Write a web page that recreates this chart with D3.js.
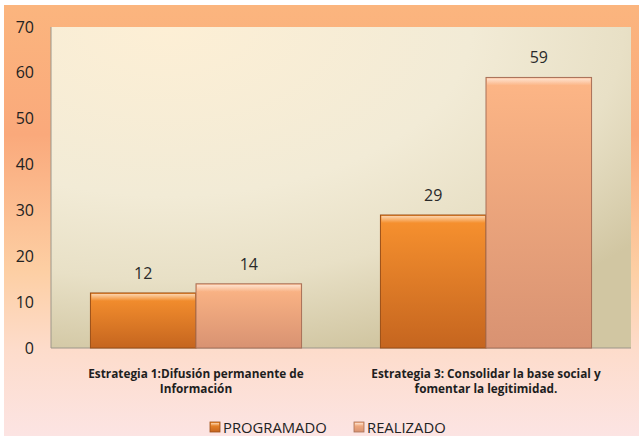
<!DOCTYPE html>
<html>
<head>
<meta charset="utf-8">
<script src="https://cdn.jsdelivr.net/npm/d3@7"></script>
<style>
  body { margin: 0; background: #fff; }
  text { font-family: "Open Sans", sans-serif; }
</style>
</head>
<body>
<svg id="chart" width="639" height="436"></svg>
<script>
// data
const categories = [
  ["Estrategia 1:Difusión permanente de", "Información"],
  ["Estrategia 3: Consolidar la base social y", "fomentar la legitimidad."]
];
const series = ["PROGRAMADO", "REALIZADO"];
const programado = [12, 29];
const realizado = [14, 59];
const yTicks = [0, 10, 20, 30, 40, 50, 60, 70];

const width = 639, height = 436;
const plot = {left: 51, right: 631, top: 27, bottom: 348};

const svg = d3.select("#chart");
const defs = svg.append("defs");

// outer background gradient
const bg = defs.append("linearGradient").attr("id", "bg")
  .attr("x1", 0).attr("y1", 0).attr("x2", 0).attr("y2", 1);
[[0, "#fbb57e"], [0.3, "#faa97b"], [0.62, "#fdcfa4"], [0.8, "#fddccb"], [1, "#fce4e3"]]
  .forEach(s => bg.append("stop").attr("offset", s[0]).attr("stop-color", s[1]));

// plot area gradient
const pa = defs.append("radialGradient").attr("id", "pa")
  .attr("cx", 0.2).attr("cy", 0).attr("r", 1.05).attr("fx", 0.2).attr("fy", 0);
[[0, "#fdefd5"], [0.5, "#f2ebd6"], [0.75, "#e8e0c6"], [1, "#d1c6a2"]]
  .forEach(s => pa.append("stop").attr("offset", s[0]).attr("stop-color", s[1]));

const barColors = {
  PROGRAMADO: ["#f8922f", "#c5651f", "#9c4f17"],
  REALIZADO: ["#fdb686", "#d89272", "#a87058"]
};
series.forEach((s, i) => {
  const g = defs.append("linearGradient").attr("id", "bar" + i)
    .attr("x1", 0).attr("y1", 0).attr("x2", 0).attr("y2", 1);
  g.append("stop").attr("offset", 0).attr("stop-color", barColors[s][0]);
  g.append("stop").attr("offset", 1).attr("stop-color", barColors[s][1]);
});
const hl = defs.append("linearGradient").attr("id", "hl")
  .attr("x1", 0).attr("y1", 0).attr("x2", 0).attr("y2", 1);
hl.append("stop").attr("offset", 0).attr("stop-color", "#fff").attr("stop-opacity", 0.6);
hl.append("stop").attr("offset", 1).attr("stop-color", "#fff").attr("stop-opacity", 0);

svg.append("rect").attr("x", 4).attr("y", 5)
  .attr("width", width - 4).attr("height", height - 5).attr("fill", "url(#bg)");

svg.append("rect").attr("x", plot.left).attr("y", plot.top)
  .attr("width", plot.right - plot.left).attr("height", plot.bottom - plot.top)
  .attr("fill", "url(#pa)");

const x0 = d3.scaleBand()
  .domain(d3.range(categories.length))
  .range([plot.left, plot.right])
  .paddingInner(0.272)
  .paddingOuter(0.136);

const x1 = d3.scaleBand()
  .domain(series)
  .range([0, x0.bandwidth()])
  .padding(0);

const y = d3.scaleLinear()
  .domain([0, 70])
  .range([plot.bottom, plot.top]);

// y axis labels
const yAxis = svg.append("g")
  .attr("transform", `translate(${plot.left},0)`)
  .call(d3.axisLeft(y).tickValues(yTicks).tickSize(0).tickPadding(17));
yAxis.select(".domain").remove();
yAxis.selectAll("text")
  .attr("font-family", "Open Sans, sans-serif")
  .attr("font-size", 16)
  .attr("fill", "#222");

// axis lines
svg.append("line").attr("x1", plot.left).attr("x2", plot.left)
  .attr("y1", plot.top).attr("y2", plot.bottom)
  .attr("stroke", "#9c968a").attr("stroke-width", 1);
svg.append("line").attr("x1", plot.left).attr("x2", plot.right)
  .attr("y1", plot.bottom).attr("y2", plot.bottom)
  .attr("stroke", "#9c968a").attr("stroke-width", 1);

const rows = categories.map((c, i) => ({i, values: [programado[i], realizado[i]]}));

const groups = svg.selectAll("g.cat")
  .data(rows)
  .enter().append("g")
  .attr("class", "cat")
  .attr("transform", d => `translate(${x0(d.i)},0)`);

const bars = groups.selectAll("g.bar")
  .data(d => d.values.map((v, k) => ({s: series[k], k, v})))
  .enter().append("g").attr("class", "bar");

bars.append("rect")
  .attr("x", d => x1(d.s))
  .attr("y", d => y(d.v))
  .attr("width", x1.bandwidth())
  .attr("height", d => y(0) - y(d.v))
  .attr("fill", d => `url(#bar${d.k})`)
  .attr("stroke", d => barColors[d.s][2])
  .attr("stroke-width", 1);

// top bevel highlight
bars.append("rect")
  .attr("x", d => x1(d.s) + 1)
  .attr("y", d => y(d.v) + 1)
  .attr("width", x1.bandwidth() - 2)
  .attr("height", 7)
  .attr("fill", "url(#hl)");

// data labels
bars.append("text")
  .attr("x", d => x1(d.s) + x1.bandwidth() / 2)
  .attr("y", d => y(d.v) - 14)
  .attr("text-anchor", "middle")
  .attr("font-size", 16)
  .attr("fill", "#2a2a2a")
  .text(d => d.v);

// category labels
groups.append("text")
  .attr("x", x0.bandwidth() / 2)
  .attr("y", plot.bottom + 30)
  .attr("text-anchor", "middle")
  .attr("font-size", 11.8)
  .attr("font-weight", "bold")
  .attr("fill", "#1e1e1e")
  .selectAll("tspan")
  .data(d => categories[d.i])
  .enter().append("tspan")
  .attr("x", x0.bandwidth() / 2)
  .attr("dy", (d, j) => j === 0 ? 0 : 15)
  .text(d => d);

// legend
const legendX = [210, 354];
const legend = svg.append("g");
series.forEach((s, i) => {
  const lg = legend.append("g").attr("transform", `translate(${legendX[i]}, 422)`);
  lg.append("rect").attr("width", 10).attr("height", 10)
    .attr("fill", `url(#bar${i})`).attr("stroke", barColors[s][2]).attr("stroke-width", 0.8);
  lg.append("rect").attr("x", 1).attr("y", 1).attr("width", 8).attr("height", 3)
    .attr("fill", "url(#hl)");
  lg.append("text").attr("x", 13).attr("y", 10.5)
    .attr("font-size", 14.8).attr("fill", "#222")
    .text(s);
});
</script>
</body>
</html>
